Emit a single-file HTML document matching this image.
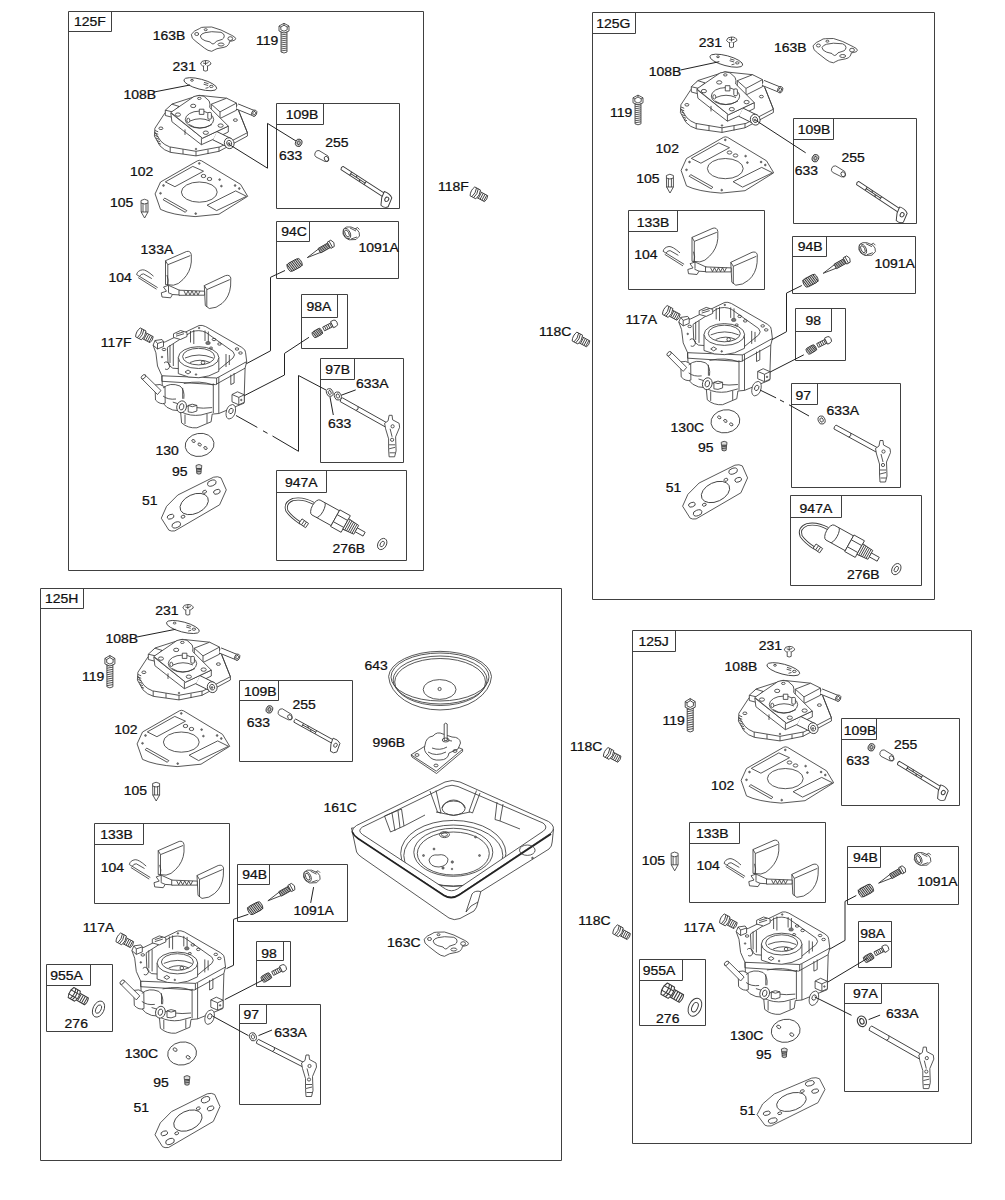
<!DOCTYPE html>
<html><head><meta charset="utf-8"><title>Carburetor parts</title><style>
html,body{margin:0;padding:0;background:#fff;width:1005px;height:1200px;overflow:hidden}
svg{display:block}
text{font-family:"Liberation Sans",sans-serif;font-size:13px;fill:#111;stroke:#111;stroke-width:.25px}
.bx{fill:none;stroke:#404040;stroke-width:1}
.ld{fill:none;stroke:#222;stroke-width:1}
.p{fill:#fff;stroke:#3a3a3a;stroke-width:.85;stroke-linejoin:round}
.pn{fill:none;stroke:#3a3a3a;stroke-width:.85;stroke-linejoin:round}
.pd{fill:#777;stroke:#444;stroke-width:.6}
</style></head><body>
<svg width="1005" height="1200" viewBox="0 0 1005 1200">
<defs><g id="ctop">
<path class="p" d="M164.2,114.1 L154.9,128.3 L154.4,136 L159.9,145.8 Q164,150.5 170.8,152.4 L196,155.9 L219,151.3 L247.4,136 L247.4,132.7 L238.7,110.8 L226.6,98.2 L199,95.3 L172,104 Z"/>
<path class="pn" d="M154.6,132 L161,141.4 Q164.5,145 169.7,146.9 L196,151.3 L220,146.9 L247.4,132.7"/>
<path class="pn" d="M170.2,147 V152.4 M196,151.3 V156 M219,147 V151.5 M183,149.2 V154 M208,149.5 V154"/>
<path class="pn" d="M155,130.5 l3.2,1.3 M155,133 l3.2,1.3 M155.2,135.5 l3.2,1.3 M155.8,138 l3.2,1.3 M156.8,140.5 l3.2,1.3 M158,143 l3,1.2"/>
<ellipse class="pn" cx="160.9" cy="128.3" rx="2" ry="1.3"/>
<ellipse class="pn" cx="235.4" cy="120.1" rx="2" ry="1.3"/>
<circle class="pd" cx="196" cy="149" r=".8"/>
<path class="p" d="M165.3,110.2 L171.9,104.2 L179,106.4 L179,111.5 L173,117.5 L165.3,115.5 Z"/>
<path class="pn" d="M165.3,110.2 L173,112 L179,106.4 M173,112 V117.5"/>
<path class="p" d="M211.3,104.2 L226.6,98.2 L236.5,103.1 L236.5,110.2 L220,118.5 L211.3,113 Z"/>
<path class="pn" d="M211.3,104.2 L220,111.9 L236.5,103.1 M220,111.9 V118.5"/>
<path d="M237,106.3 L254.2,113.4" stroke="#3a3a3a" stroke-width="6.2"/>
<path d="M237,106.3 L254.2,113.4" stroke="#fff" stroke-width="4.5"/>
<ellipse class="p" cx="254.2" cy="113.2" rx="2.5" ry="3.3" transform="rotate(22 254.2 113.2)"/>
<ellipse class="pn" cx="254.2" cy="113.2" rx="1.3" ry="1.9" transform="rotate(22 254.2 113.2)"/>
<path class="pn" d="M238.7,110.8 L247.4,132.7"/>
<path class="p" d="M170.8,113 L171.9,121.7 L185,132 L201.4,144.7 L214,139 L228.3,132 L228.3,126.1 L202.5,138.2 Z"/>
<path class="pn" d="M185,129.4 V134.9 M201.4,138.2 V144.7"/>
<path class="p" d="M170.8,112.4 L194,96.5 Q199,94.5 204,96.3 L209.1,100.9 Q210.5,104 209.7,107.5 L228.3,126.1 L202.5,138.2 Z"/>
<ellipse class="p" cx="199.5" cy="119.6" rx="14.2" ry="8.5"/>
<path class="pn" d="M189,124.5 Q199.5,131.5 212,124.5 M190,121 Q200,116.5 210,121"/>
<ellipse class="pn" cx="188.3" cy="120.4" rx="1.5" ry="2.2"/>
<rect class="p" x="199.3" y="109.2" width="4.6" height="5.2"/>
<rect class="p" x="207.8" y="112.4" width="3.6" height="6.8" rx="1.2"/>
<ellipse class="p" cx="193.2" cy="105.9" rx="2.6" ry="1.7"/>
<ellipse class="p" cx="177.9" cy="114.6" rx="2.6" ry="1.7"/>
<ellipse class="p" cx="220.6" cy="125.6" rx="2.6" ry="1.7"/>
<ellipse class="p" cx="205.8" cy="132.7" rx="2.6" ry="1.7"/>
<ellipse class="pn" cx="199.3" cy="98.4" rx="1.8" ry="1.1"/>
<path d="M215,135.8 L229.2,142.8" stroke="#3a3a3a" stroke-width="10"/>
<path d="M215,135.8 L229.2,142.8" stroke="#fff" stroke-width="8.3"/>
<ellipse class="p" cx="229.2" cy="143.2" rx="4.8" ry="5.5" transform="rotate(-20 229.2 143.2)"/>
<ellipse class="pn" cx="229.2" cy="143.2" rx="2.4" ry="2.9" transform="rotate(-20 229.2 143.2)"/>
<circle class="pd" cx="229" cy="143.5" r=".9"/>
</g>

<g id="g102">
<path class="p" d="M197.5,160.8 Q199.3,159.8 201.5,160.8 L240.5,184.3 L247.7,196.3 L219,214.2 L195.1,216.6 Q172,215 160.5,209.4 L155.1,193.9 L160.5,182 Z"/>
<path class="pn" d="M165.3,181.9 L192.8,166.4 L203.5,171.2 L174.9,186.7 Z"/>
<path class="pn" d="M164.7,198.1 L186.8,210.6 L185.3,212.3 L163.2,199.8 Z"/>
<path class="pn" d="M207.1,205.2 L235.7,190.9 L246.5,196.3 L216.6,210.6 Z"/>
<ellipse class="pn" cx="199.3" cy="192.1" rx="17.9" ry="10.1"/>
<ellipse class="pn" cx="203.5" cy="176" rx="2.3" ry="1.6"/>
<ellipse class="pn" cx="209.5" cy="179" rx="2.3" ry="1.6"/>
<circle class="pd" cx="219.6" cy="179.6" r=".9"/>
<circle class="pd" cx="221.4" cy="186.1" r=".9"/>
<circle class="pd" cx="163.5" cy="185.5" r=".9"/>
<circle class="pd" cx="160.5" cy="193.3" r=".9"/>
<circle class="pd" cx="235.1" cy="185.5" r=".9"/>
<circle class="pd" cx="239.3" cy="188.5" r=".9"/>
<circle class="pd" cx="199.3" cy="163.4" r=".9"/>
<circle class="pd" cx="195.7" cy="213.6" r=".9"/>
</g>

<g id="cbody">
<path class="p" d="M161.9,375.8 L163,403.2 Q166,408 172.8,410 L180.5,410.8 L181.6,422.9 Q188,428.5 196.9,427.8 L211.1,421.8 L212.2,414.1 L218.8,413.5 L244,403.2 L245.1,368 L246.7,361.6 Z"/>
<path class="p" d="M155,385 Q160,383 165,387 L165.2,403.2 Q160,405 155.5,400 Z"/>
<path class="p" d="M141.6,378.5 L145.2,375 L161,390.5 L157.5,394.5 Z"/>
<ellipse class="p" cx="143.4" cy="376.8" rx="2.6" ry="1.6" transform="rotate(-45 143.4 376.8)"/>
<path class="pn" d="M163,388 Q170,382 180,386 Q185,390 183.8,398.8 M183.8,383.5 Q200,380 213,385 M182.7,387.9 V398.8 M172.8,402.1 Q195,410 212.2,407.6 M163,396 Q168,400 176,399"/>
<path class="pn" d="M213.3,383.5 V413 M218.8,377 V413.5 M230.8,374.7 L230.8,384.6 L234.1,383 L234.1,373"/>
<path class="pn" d="M181.6,412 Q190,416.5 201,415 L212.2,412 M185,414.5 V424 M207,414 V423"/>
<ellipse class="p" cx="181.6" cy="406.8" rx="4.8" ry="6" transform="rotate(15 181.6 406.8)"/>
<ellipse class="pn" cx="181.6" cy="406.8" rx="2.2" ry="3.2" transform="rotate(15 181.6 406.8)"/>
<path class="p" d="M188.2,405.4 Q192,403 196.9,405.4 L196.9,411 Q192,413.5 188.2,411.9 Z"/>
<path class="pn" d="M188.2,405.4 Q192,408 196.9,405.4"/>
<path class="p" d="M232,394.5 L237.5,391.8 L244.3,394.8 L244.3,402.3 L238.8,404.8 L232,401.8 Z"/>
<path class="pn" d="M232,394.5 L238.8,397.4 L244.3,394.8 M238.8,397.4 V404.8"/>
<circle class="pd" cx="241.3" cy="400" r=".8"/>
<path class="p" d="M226,413.5 Q226.5,405.5 232.5,404.5 Q236,405 235.5,411 Q234.5,418 229,419 Q226,418.5 226,413.5 Z"/>
<ellipse class="pn" cx="231" cy="411" rx="2" ry="2.8" transform="rotate(25 231 411)"/>
<path class="p" d="M199.1,325.5 Q202,324.8 205.7,326.6 L241.8,347.4 Q246,350 245.6,352.8 L246.7,361.6 L218.8,377 L216.6,378 L161.9,375.8 L157.5,366 L155.9,352.8 L153.1,345.2 L165.2,341.9 Z"/>
<path class="pn" d="M161.9,375.8 L161.9,381.3 L215.5,384.6 L245,368.2 M216.6,378 V384.6"/>
<path class="pn" d="M167.4,347.4 L191.4,332 Q199,329 206,332.5 L233,351.7 Q236,355 233,358 L216.6,371.4 L172.8,368.2 Q168,366 168,362 Z"/>
<path class="pn" d="M190.5,331 V342.5 M193.8,330 V344 M205,330.5 V341 M208.3,331.5 V342 M170,345 V363 M173.3,344 V366 M226,354 V367 M229.3,355 V365"/>
<path class="p" d="M178.3,357.6 V373.6 Q199,383 218.8,371.4 V357.6 Z"/>
<ellipse class="p" cx="198.6" cy="357.6" rx="20.3" ry="10.9"/>
<ellipse class="pn" cx="198.6" cy="356.6" rx="16" ry="8.3"/>
<path class="pn" d="M185,358 Q199,352 213,358 M190,362.5 Q200,358 210,362.5"/>
<circle class="pn" cx="203" cy="362.6" r="1.8"/>
<circle class="pd" cx="199.1" cy="328" r=".8"/>
<circle class="pd" cx="162" cy="357" r=".8"/>
<circle class="pd" cx="196" cy="374.5" r=".8"/>
<ellipse class="pn" cx="164" cy="349.5" rx="1.8" ry="1.2"/>
<ellipse class="pn" cx="237" cy="349" rx="1.8" ry="1.2"/>
<ellipse class="pn" cx="240.5" cy="353" rx="1.8" ry="1.2"/>
<ellipse class="pd" cx="208" cy="343" rx="2.3" ry="1.6"/>
<ellipse class="pn" cx="219.5" cy="344" rx="1.8" ry="1.2"/>
<ellipse class="pn" cx="214" cy="339.5" rx="1.8" ry="1.2"/>
<ellipse class="pn" cx="211" cy="348" rx="1.5" ry="1"/>
<path class="pn" d="M164,363 Q167,360 170,365 Q169,371 165,369 M185,372 l3,-2 l3,2 l-3,2z"/>
<path class="p" d="M153.1,345.2 L155,340.5 L162,339.5 L163.5,341.5 L163.5,346.5 L157.5,349 Z"/>
<path class="pn" d="M155,340.5 L157.5,343.5 L163.5,341.5 M157.5,343.5 V349"/>
<path class="p" d="M173.5,333.8 L180.5,330.5 L187,332.5 L187,336.5 L180.5,339.5 L173.5,337.5 Z"/>
<path class="pn" d="M176,334.2 l8,-2.5 M176,336.2 l8,-2.5"/>
</g>

<g id="float">
<path class="p" d="M165.5,260.7 L186.5,251.5 Q190.5,250.5 191.3,254.7 L191.3,262 Q190.5,272 183,279.5 Q178.5,284.6 173.4,285.2 L165.5,284.6 Z"/>
<path class="pn" d="M165.5,260.7 L167.8,264.7 L190.3,255.6 M167.8,264.7 V284.8"/>
<path class="p" d="M204.3,285.6 L225.5,275.6 Q229.8,274.4 230.8,278 L230.6,286 Q229.5,297 222,303.5 Q216.5,308.5 209.3,308.5 L205.3,305.5 Z"/>
<path class="pn" d="M204.3,285.6 L206.8,289.6 L229.8,279.6 M206.8,289.6 V307"/>
<path class="p" d="M163.5,287 L168.5,285.3 L180,290.5 L180,295 L172.5,294.5 L170.5,297.8 L162,297 L161.3,292.8 L166.5,291.2 Z"/>
<path class="pn" d="M168.5,285.3 V292 M172.5,294.5 L168,292.5"/>
<path class="p" d="M179,290.2 L204.6,291.2 L204.6,295.2 L179,295.3 Z"/>
<path class="pn" d="M184,291 l2,4 l2,-4 l2,4 l2,-4 l2,4 l2,-4 l2,4 l2,-4"/>
<path class="pn" d="M167,275 Q169,280 167.5,285.5"/>
<path class="pn" d="M142.5,269.8 Q137.5,270.5 136.6,274.6 L157.6,287.6 M142.5,269.8 Q146,269.5 153.5,276.2 M139.6,276.4 Q140.8,273.8 143.6,273.9 L151.8,278.6 M138.2,277.6 L156.5,289.2"/>
</g>

<g id="g51">
<path class="p" d="M161.3,518.2 L166.6,506.3 L177.8,495 L213.6,477.2 Q218,476 221,477.9 L226.3,489.9 L219.6,504.8 L174.8,530.9 Q171,531.5 168.8,530.1 Z"/>
<ellipse class="pn" cx="194.2" cy="504" rx="15" ry="9.5" transform="rotate(-25 194.2 504)"/>
<ellipse class="pn" cx="211.8" cy="483.1" rx="4.5" ry="2.8" transform="rotate(-20 211.8 483.1)"/>
<ellipse class="pn" cx="216.9" cy="491.8" rx="3.5" ry="2.2" transform="rotate(-20 216.9 491.8)"/>
<ellipse class="pn" cx="204.6" cy="491.8" rx="2" ry="1.4" transform="rotate(-20 204.6 491.8)"/>
<ellipse class="pn" cx="170.6" cy="516.7" rx="3.5" ry="2.2" transform="rotate(-20 170.6 516.7)"/>
<ellipse class="pn" cx="176.3" cy="524.9" rx="4.5" ry="2.8" transform="rotate(-20 176.3 524.9)"/>
<ellipse class="pn" cx="183" cy="516.7" rx="2" ry="1.4" transform="rotate(-20 183 516.7)"/>
</g>

<g id="d130">
<ellipse class="p" cx="199.6" cy="444.9" rx="14.5" ry="11.5" transform="rotate(-10 199.6 444.9)"/>
<ellipse class="pn" cx="193.5" cy="441" rx="1.8" ry="1.3" transform="rotate(30 193.5 441)"/>
<ellipse class="pn" cx="199.6" cy="444.5" rx="1.8" ry="1.3" transform="rotate(30 199.6 444.5)"/>
<ellipse class="pn" cx="205.5" cy="448" rx="1.8" ry="1.3" transform="rotate(30 205.5 448)"/>
</g>

<g id="p95">
<path d="M196,465.5 Q199,463.5 201.8,465.5 L201.5,468.5 L196.3,468.5 Z" fill="#ddd" stroke="#333" stroke-width=".8"/>
<path d="M196.5,468.5 L201.3,468.5 L201,473.5 Q199,474.8 196.8,473.5 Z" fill="#bbb" stroke="#333" stroke-width=".8"/>
<path d="M196.6,470 l4.6,-.6 M196.7,471.8 l4.5,-.6" stroke="#222" stroke-width=".7"/>
</g>

<g id="g163">
<path class="p" d="M191.3,34.3 Q194,30.5 199.3,28.7 Q201,27 204,27.2 L211.7,27 L221,30 L231.7,35.3 Q235.5,37 235.7,38.7 Q235.5,40.5 232,41 L229.7,41.3 Q229,44 228.3,44.7 Q227.5,46.5 224,47.3 L217,48.7 Q214,50 211.7,51.3 Q208,51 204.3,48 L196,41.5 Q191,38.5 191.3,34.3 Z"/>
<path class="pn" d="M200.3,36 Q201.5,33.5 205,32.7 L211.7,31.7 L221,32.3 Q224.5,33.8 224.3,36 Q224,38.5 222.3,39.3 L216.3,41.3 Q214.5,44 213,44 Q211.5,44 210.3,42 L205,40.7 Q200.5,39 200.3,36 Z"/>
<ellipse class="pn" cx="196.7" cy="34" rx="2" ry="1.5"/>
<ellipse class="pn" cx="205.7" cy="29.7" rx="1.5" ry="1"/>
<ellipse class="pn" cx="230.3" cy="38.6" rx="2.4" ry="1.9"/>
<ellipse class="pn" cx="221" cy="44.5" rx="3" ry="1.5"/>
</g>

<g id="b119">
<path class="p" d="M281,31 L287,31 L287,52 Q284,54 281,52 Z"/>
<path class="pn" d="M281,33 l6,-1 M281,35 l6,-1 M281,37 l6,-1 M281,39 l6,-1 M281,41 l6,-1 M281,43 l6,-1 M281,45 l6,-1 M281,47 l6,-1 M281,49 l6,-1 M281,51 l6,-1"/>
<path class="p" d="M279,26 L284,23.3 L289,26 L289,31 L284,33 L279,31 Z"/>
<path class="pn" d="M280.8,27 L284,25.2 L287.2,27 L287.2,29.8 L284,31.2 L280.8,29.8 Z M284,23.3 V25.2 M279,26 L280.8,27 M289,26 L287.2,27"/>
</g>

<g id="s231">
<path class="p" d="M200.5,64 Q201,60.5 205.5,60.5 Q210.5,60.5 211,64 Q208,66.5 205.5,66.5 Q202,66.5 200.5,64 Z"/>
<path class="p" d="M203.5,66 L203.5,70.5 Q205.5,71.7 207.5,70.5 L207.5,66"/>
<path class="pn" d="M203,63 Q205.5,64.5 208.5,62.5 M205.5,60.5 V65"/>
</g>

<g id="p108">
<ellipse class="p" cx="200.3" cy="84.2" rx="17" ry="5" transform="rotate(15 200.3 84.2)"/>
<ellipse class="pn" cx="192" cy="80.3" rx="1.4" ry=".9"/>
<path class="pn" d="M204,82.4 l4.5,1.3 M203.6,84.2 l4.5,1.3 M205.5,88.3 l3,-.8"/>
<ellipse class="pn" cx="211.3" cy="86.4" rx="1.8" ry="1.1"/>
</g>

<g id="n105">
<path class="p" d="M141,200.5 Q144.5,198 148,200.5 L148,212 L144.6,218 L141.2,212 Z"/>
<path class="pn" d="M141,203 Q144.5,205 148,203 M141,212 h7 M143,203.5 V212 M146,203.5 V212"/>
</g>

<g id="pl117">
<g transform="translate(141,334) rotate(28)">
<path class="p" d="M3,-3.4 L12,-3.4 Q13.5,0 12,3.4 L3,3.4 Z"/>
<path class="pn" d="M5,-3.4 V3.4 M7,-3.4 V3.4 M9,-3.4 V3.4 M11,-3.4 V3.4"/>
<path class="p" d="M-3.5,-5 L3,-5 Q5.2,0 3,5 L-3.5,5 Q-5.8,0 -3.5,-5 Z"/>
<path class="pn" d="M-1.5,-5 Q0.5,0 -1.5,5 M0.5,-5 Q2.5,0 0.5,5"/>
</g>
</g>

<g id="f118"><use href="#pl117" transform="translate(334.5,-141)"/></g>





<g id="w633">
<ellipse cx="298.7" cy="142.8" rx="3.2" ry="3.8" transform="rotate(20 298.7 142.8)" fill="#ccc" stroke="#333" stroke-width=".85"/>
<ellipse class="pn" cx="298.7" cy="142.8" rx="1.4" ry="1.9" transform="rotate(20 298.7 142.8)"/>
</g>
<g id="b255">
<path class="p" d="M315,153 Q316,150 319,150.5 L328,156 L328.8,159 Q328,162 325,161.5 L316,157 Q314,155.5 315,153 Z"/>
<ellipse class="pn" cx="326.5" cy="159" rx="2" ry="2.8" transform="rotate(-30 326.5 159)"/>
</g>
<g id="sh109o">
<path class="p" d="M0,-1.8 L46,-1.8 L46,1.8 L0,1.8 Q-1.2,0 0,-1.8 Z"/>
<path class="pn" d="M9,-1.8 L9,1.8 M9,0 H24 M24,-1.8 V1.8 M14,-1.8 l1.5,1.8 M18,0 l1.5,1.8"/>
<path class="p" d="M42,-3.2 Q47,-4.5 50.5,-2 L52,7 Q50,10.5 46,9.5 L43,3 Z"/>
<ellipse class="pn" cx="47.5" cy="1.8" rx="1.6" ry="2.2"/>
</g>
<g id="sh109"><use href="#sh109o" transform="translate(342,168) rotate(33) scale(1.15,1.05)"/></g>

<g id="box94">
<g transform="translate(294.6,265) rotate(-28)">
<rect x="-7.5" y="-4.4" width="15" height="8.8" rx="3" fill="#d0d0d0" stroke="#333" stroke-width=".85"/>
<path d="M-6.5,-4.3 l1.5,8.6 M-4.6,-4.5 l1.5,9 M-2.7,-4.6 l1.5,9.2 M-0.8,-4.6 l1.5,9.2 M1.1,-4.6 l1.5,9.2 M3,-4.5 l1.5,9 M4.9,-4.3 l1.4,8.6" stroke="#222" stroke-width=".8" fill="none"/>
</g>
<g transform="translate(307.3,257.6) rotate(-29.5)">
<path class="p" d="M0,0 L14,-2 L14,2 Z"/>
<rect x="14" y="-2.6" width="11" height="5.2" fill="#aaa" stroke="#333" stroke-width=".8"/>
<path d="M15.5,-2.6 l1,5.2 M17.5,-2.6 l1,5.2 M19.5,-2.6 l1,5.2 M21.5,-2.6 l1,5.2 M23.5,-2.6 l1,5.2" stroke="#222" stroke-width=".7"/>
<path class="p" d="M25,-3.6 L29,-3.6 L30.5,0 L29,3.6 L25,3.6 Z"/>
<path class="pn" d="M27,-3.6 V3.6"/>
</g>
<path class="p" d="M343.5,229 Q346,226 351,227 L357,229.5 Q360,232 359.5,236 L356,239.5 L349,239.8 Q344,238 343,234 Z"/>
<ellipse class="p" cx="347" cy="233.5" rx="3.2" ry="5.5" transform="rotate(-25 347 233.5)"/>
<ellipse class="pn" cx="347" cy="233.5" rx="1.8" ry="3.8" transform="rotate(-25 347 233.5)"/>
<path class="pn" d="M350,228 L356,231 M351,239 L357,237 M355,229 l2.5,-1.5 l2,2"/>
</g>

<g id="box98">
<g transform="translate(317.3,333) rotate(-30)">
<rect x="-5" y="-3.3" width="10" height="6.6" rx="2" fill="#c0c0c0" stroke="#333" stroke-width=".8"/>
<path d="M-3.6,-3.1 l1,6.2 M-1.8,-3.3 l1,6.6 M0,-3.3 l1,6.6 M1.8,-3.3 l1,6.6 M3.4,-3.1 l.8,6.2" stroke="#222" stroke-width=".75" fill="none"/>
</g>
<g transform="translate(323.6,329) rotate(-27)">
<rect class="p" x="0" y="-2.1" width="9.5" height="4.2"/>
<path class="pn" d="M2,-2.1 v4.2 M4,-2.1 v4.2 M6,-2.1 v4.2 M8,-2.1 v4.2"/>
<path class="p" d="M9.5,-3.4 L12.5,-3.4 Q15,-3.4 15,0 Q15,3.4 12.5,3.4 L9.5,3.4 Z"/>
</g>
</g>

<g id="w633b">
<ellipse class="p" cx="329.7" cy="392.5" rx="3.2" ry="4" transform="rotate(-20 329.7 392.5)"/>
<ellipse class="pn" cx="329.7" cy="392.5" rx="1.4" ry="2" transform="rotate(-20 329.7 392.5)"/>
</g>
<g id="w633a">
<ellipse class="p" cx="337.8" cy="396" rx="3.4" ry="4.2" transform="rotate(-20 337.8 396)"/>
<ellipse class="pn" cx="337.8" cy="396" rx="1.6" ry="2.2" transform="rotate(-20 337.8 396)"/>
</g>
<g id="sh97">
<path class="p" d="M342.5,400 L344,397.5 L385,421.5 L384,424.5 Z"/>
<path class="pn" d="M357,406.5 l1.5,1.5"/>
</g>
<g id="lev97">
<path class="p" d="M388,416 L391,415.5 L391.5,421 L396,429 L394,434 L389,437 L388,446 L390,451 L391,455 L387,457 L384,455 L384,446 L385.5,437 L384,427 L387.5,421 Z"/>
<path class="pn" d="M385,440 h5 M384,448 l5,-2 M385.5,451 h4 M386,429 a1.5,1.5 0 1 0 3,0 a1.5,1.5 0 1 0 -3,0"/>
</g>

<g id="box947">
<path d="M314,503.5 Q303,497.5 293,499.5 Q284,503 287,511 Q291,517 301,523.5" fill="none" stroke="#3a3a3a" stroke-width="3"/>
<path d="M314,503.5 Q303,497.5 293,499.5 Q284,503 287,511 Q291,517 301,523.5" fill="none" stroke="#fff" stroke-width="1.3"/>
<g transform="translate(300.5,521) rotate(35)"><rect class="p" x="0" y="-2.6" width="8" height="5.2"/><path class="pn" d="M3,-2.6 V2.6 M5.5,-2.6 V2.6"/></g>
<g transform="translate(316,507.5) rotate(29)">
<path class="p" d="M0,-8.5 L22,-8.5 L22,8.5 L0,8.5 A4,8.5 0 0 1 0,-8.5 Z"/>
<path class="pn" d="M5,-8.5 A3,8.5 0 0 1 5,8.5"/>
<path class="p" d="M22,-9.5 L34,-9.5 L34,9.5 L22,9.5 Z"/>
<path class="pn" d="M22,-4 H34 M22,4 H34"/>
<path class="p" d="M34,-6 L46,-5 L46,5 L34,6 Z"/>
<path class="pn" d="M36,-6 V6 M38,-5.8 V5.8 M40,-5.6 V5.6 M42,-5.4 V5.4 M44,-5.2 V5.2"/>
<path class="p" d="M46,-2.2 L55,-2.2 L55,2.2 L46,2.2 Z"/>
</g>
<ellipse class="p" cx="382.2" cy="544" rx="4.2" ry="6" transform="rotate(30 382.2 544)"/>
<ellipse class="pn" cx="382.2" cy="544" rx="1.8" ry="3" transform="rotate(30 382.2 544)"/>
</g>

<g id="d130b">
<ellipse class="p" cx="199.6" cy="444.9" rx="14.5" ry="11.5" transform="rotate(-10 199.6 444.9)"/>
<ellipse class="pn" cx="192.6" cy="441" rx="2.2" ry="1.5" transform="rotate(30 192.6 441)"/>
<ellipse class="pn" cx="205.7" cy="448.7" rx="2.2" ry="1.5" transform="rotate(30 205.7 448.7)"/>
</g>
</defs>
<path class="bx" d="M68.5,11.5H423.5V570.5H68.5Z M68.5,31.5H111.5V11.5"/>
<path class="bx" d="M592.5,12.5H934.5V599.5H592.5Z M592.5,33.5H635.5V12.5"/>
<path class="bx" d="M40.5,588.5H561.5V1160.5H40.5Z M40.5,608.5H83.5V588.5"/>
<path class="bx" d="M632.5,630.5H971.5V1143.5H632.5Z M632.5,651.5H675.5V630.5"/>
<path class="bx" d="M276.5,103.5H399.5V208.5H276.5Z M276.5,124.5H323.5V103.5"/>
<path class="bx" d="M276.5,221.5H398.5V278.5H276.5Z M276.5,241.5H309.5V221.5"/>
<path class="bx" d="M301.5,294.5H347.5V348.5H301.5Z M301.5,317.5H337.5V294.5"/>
<path class="bx" d="M320.5,358.5H403.5V462.5H320.5Z M320.5,379.5H354.5V358.5"/>
<path class="bx" d="M276.5,470.5H406.5V560.5H276.5Z M276.5,492.5H326.5V470.5"/>
<path class="bx" d="M793.5,118.5H916.5V223.5H793.5Z M793.5,139.5H833.5V118.5"/>
<path class="bx" d="M628.5,210.5H764.5V289.5H628.5Z M628.5,231.5H677.5V210.5"/>
<path class="bx" d="M792.5,236.5H915.5V293.5H792.5Z M792.5,256.5H826.5V236.5"/>
<path class="bx" d="M795.5,308.5H845.5V360.5H795.5Z M795.5,331.5H831.5V308.5"/>
<path class="bx" d="M791.5,383.5H900.5V487.5H791.5Z M791.5,404.5H817.5V383.5"/>
<path class="bx" d="M790.5,495.5H921.5V585.5H790.5Z M790.5,517.5H841.5V495.5"/>
<path class="bx" d="M239.5,680.5H352.5V761.5H239.5Z M239.5,700.5H278.5V680.5"/>
<path class="bx" d="M94.5,823.5H229.5V903.5H94.5Z M94.5,844.5H143.5V823.5"/>
<path class="bx" d="M237.5,864.5H347.5V921.5H237.5Z M237.5,884.5H269.5V864.5"/>
<path class="bx" d="M256.5,941.5H290.5V986.5H256.5Z M256.5,960.5H283.5V941.5"/>
<path class="bx" d="M46.5,964.5H112.5V1031.5H46.5Z M46.5,985.5H90.5V964.5"/>
<path class="bx" d="M239.5,1004.5H320.5V1104.5H239.5Z M239.5,1023.5H266.5V1004.5"/>
<path class="bx" d="M841.5,718.5H959.5V805.5H841.5Z M841.5,739.5H876.5V718.5"/>
<path class="bx" d="M689.5,822.5H825.5V902.5H689.5Z M689.5,843.5H739.5V822.5"/>
<path class="bx" d="M847.5,846.5H958.5V904.5H847.5Z M847.5,867.5H880.5V846.5"/>
<path class="bx" d="M858.5,921.5H891.5V967.5H858.5Z M858.5,941.5H891.5V921.5"/>
<path class="bx" d="M639.5,959.5H705.5V1025.5H639.5Z M639.5,980.5H682.5V959.5"/>
<path class="bx" d="M844.5,983.5H938.5V1091.5H844.5Z M844.5,1003.5H881.5V983.5"/>
<use href="#g163"/>
<use href="#b119"/>
<use href="#s231"/>
<use href="#p108"/>
<use href="#ctop"/>
<use href="#g102"/>
<use href="#n105"/>
<use href="#w633"/>
<use href="#b255"/>
<use href="#sh109"/>
<use href="#box94"/>
<use href="#float"/>
<use href="#pl117"/>
<use href="#cbody"/>
<use href="#box98"/>
<use href="#w633b"/>
<use href="#w633a"/>
<use href="#d130"/>
<use href="#p95"/>
<use href="#g51"/>
<use href="#box947"/>
<use href="#f118"/>
<g transform="translate(341.3,399.7) rotate(29.3)"><path class="p" d="M0,-2.2 L51.4,-2.2 L51.4,2.2 L0,2.2 Q-1.2,0 0,-2.2 Z"/><path class="pn" d="M18.0,-2.2 l1.2,2.2 l-1.2,2.2"/></g>
<g transform="translate(386.1,424.8)"><path class="p" d="M-1.5,-1.5 L2,-4 L3,-9.5 L6,-9.5 L6.5,-5 L13,-1.5 L13.5,2.5 L9.5,12 L10,26 L8.5,32 L3,32 L2.5,24 L2.5,14 L-0.5,4 Z"/><circle class="pn" cx="6.5" cy="1.5" r="1.6"/><circle class="pn" cx="6" cy="15" r="1.6"/><path class="pn" d="M3,20 h6 M3,24 l6,-1.5 M3.5,28 h5.5 M4,4 L6,12"/></g>
<path class="ld" d="M154,92 L190,85"/>
<path class="ld" d="M229,144.3 L267.5,168.2 L267.5,123.4 L296,141"/>
<path class="ld" d="M285,270.5 L270.5,277.3 L270.5,350.8 L246.4,363.7"/>
<path class="ld" d="M309,337.3 L284.5,353.4 L284.5,375 L244.4,395.6"/>
<path class="ld" d="M236,415.5 L257.3,427.4"/>
<path class="ld" d="M263,430.8 L267.5,433.3"/>
<path class="ld" d="M272.5,436 L298.5,451.3"/>
<path class="ld" d="M298.5,451.3 L298.5,375.5 L326,390"/>
<path class="ld" d="M355.7,389.9 L341.3,395.2"/>
<path class="ld" d="M333.3,415 L330,397"/>
<use href="#ctop" transform="translate(526,-23.5)"/>
<use href="#g102" transform="translate(526,-23.5)"/>
<use href="#s231" transform="translate(526,-23.5)"/>
<use href="#p108" transform="translate(526,-23.5)"/>
<use href="#b119" transform="translate(354,71.8)"/>
<use href="#g163" transform="translate(621.7,11.5)"/>
<use href="#n105" transform="translate(525.4,-25)"/>
<use href="#float" transform="translate(526.5,-23.3)"/>
<use href="#cbody" transform="translate(525.7,-23.1)"/>
<use href="#pl117" transform="translate(526.9,-22.4)"/>
<use href="#d130" transform="translate(525.8,-23.6)"/>
<use href="#p95" transform="translate(525.2,-23.2)"/>
<use href="#g51" transform="translate(521.3,-12)"/>
<use href="#f118" transform="translate(102.1,145.2)"/>
<use href="#w633" transform="translate(516.7,15.4)"/>
<use href="#b255" transform="translate(516.7,15.4)"/>
<use href="#sh109o" transform="translate(857.6,183) rotate(33.5) scale(1.15,1.05)"/>
<use href="#box94" transform="translate(515.9,15.7)"/>
<use href="#box98" transform="translate(494,16.5)"/>
<use href="#w633a" transform="translate(483.8,24)"/>
<g transform="translate(835,427) rotate(28.7)"><path class="p" d="M0,-2.2 L47.9,-2.2 L47.9,2.2 L0,2.2 Q-1.2,0 0,-2.2 Z"/><path class="pn" d="M16.8,-2.2 l1.2,2.2 l-1.2,2.2"/></g>
<g transform="translate(877,450)"><path class="p" d="M-1.5,-1.5 L2,-4 L3,-9.5 L6,-9.5 L6.5,-5 L13,-1.5 L13.5,2.5 L9.5,12 L10,26 L8.5,32 L3,32 L2.5,24 L2.5,14 L-0.5,4 Z"/><circle class="pn" cx="6.5" cy="1.5" r="1.6"/><circle class="pn" cx="6" cy="15" r="1.6"/><path class="pn" d="M3,20 h6 M3,24 l6,-1.5 M3.5,28 h5.5 M4,4 L6,12"/></g>
<use href="#box947" transform="translate(514.1,25.1)"/>
<path class="ld" d="M680.5,70 L719.3,61.7"/>
<path class="ld" d="M756,120.5 L805.7,152.8"/>
<path class="ld" d="M801.8,285.5 L786.5,293.1 L786.5,331.7 L771.9,339.7"/>
<path class="ld" d="M803.8,354.8 L770,372.1"/>
<path class="ld" d="M760,390 L776.1,397.9"/>
<path class="ld" d="M780,400 L784,402"/>
<path class="ld" d="M789,404.8 L809,416"/>
<use href="#ctop" transform="translate(-17,544)"/>
<use href="#s231" transform="translate(-17.7,544)"/>
<use href="#p108" transform="translate(-17.4,542.8)"/>
<use href="#g102" transform="translate(-18,550)"/>
<use href="#b119" transform="translate(-174.1,630.1) scale(1,1.09)"/>
<use href="#n105" transform="translate(11.6,583)"/>
<use href="#w633" transform="translate(-29.3,566.6)"/>
<use href="#b255" transform="translate(-36.6,558.3)"/>
<use href="#sh109o" transform="translate(294.8,720.6) rotate(29)"/>
<use href="#float" transform="translate(-7.3,589.9)"/>
<use href="#box94" transform="translate(-39.4,643.2)"/>
<use href="#box98" transform="translate(-51,644.5)"/>
<use href="#w633a" transform="translate(-84.9,640.8)"/>
<g transform="translate(257.4,1041.3) rotate(27.0)"><path class="p" d="M0,-2.2 L51.2,-2.2 L51.2,2.2 L0,2.2 Q-1.2,0 0,-2.2 Z"/><path class="pn" d="M17.9,-2.2 l1.2,2.2 l-1.2,2.2"/></g>
<g transform="translate(303,1064.5)"><path class="p" d="M-1.5,-1.5 L2,-4 L3,-9.5 L6,-9.5 L6.5,-5 L13,-1.5 L13.5,2.5 L9.5,12 L10,26 L8.5,32 L3,32 L2.5,24 L2.5,14 L-0.5,4 Z"/><circle class="pn" cx="6.5" cy="1.5" r="1.6"/><circle class="pn" cx="6" cy="15" r="1.6"/><path class="pn" d="M3,20 h6 M3,24 l6,-1.5 M3.5,28 h5.5 M4,4 L6,12"/></g>
<use href="#cbody" transform="translate(-21.2,605.4)"/>
<use href="#pl117" transform="translate(-19.6,605)"/>
<use href="#d130b" transform="translate(-17.5,608.6)"/>
<use href="#p95" transform="translate(-11.9,611.1)"/>
<use href="#g51" transform="translate(-6.3,616.6)"/>
<use href="#g163" transform="translate(232.8,905)"/>
<path class="ld" d="M136.8,637 L175.6,629.3"/>
<path class="ld" d="M248.4,914.3 L233.5,919.3 L233.5,965.3 L226.5,968.6"/>
<path class="ld" d="M224.8,999.6 L264.1,979.4"/>
<path class="ld" d="M212.4,1016 L248.4,1035.6"/>
<path class="ld" d="M313.6,887.1 L310.7,902.9"/>
<path class="ld" d="M272,1030 L258.5,1035.6"/>
<use href="#ctop" transform="translate(584,585)"/>
<use href="#s231" transform="translate(583.7,585.9)"/>
<use href="#p108" transform="translate(583,585)"/>
<use href="#g102" transform="translate(586,586.5)"/>
<use href="#b119" transform="translate(406.2,672.3) scale(1,1.126)"/>
<use href="#n105" transform="translate(530.1,652.8)"/>
<use href="#f118" transform="translate(133.3,560.6)"/>
<use href="#f118" transform="translate(142.7,737.9)"/>
<use href="#w633" transform="translate(572.7,604.5)"/>
<use href="#b255" transform="translate(565.1,599.4)"/>
<use href="#sh109o" transform="translate(898.5,762.9) rotate(31.5) scale(1.13,1.05)"/>
<use href="#float" transform="translate(587.5,588.8)"/>
<use href="#box94" transform="translate(571.3,625.6)"/>
<use href="#box98" transform="translate(551.3,624.8)"/>
<use href="#w633a" transform="translate(861.9,1021.3) scale(1.3) translate(-337.8,-396)"/>
<g transform="translate(870.3,1028.1) rotate(29.7)"><path class="p" d="M0,-2.5 L57.6,-2.5 L57.6,2.5 L0,2.5 Q-1.2,0 0,-2.5 Z"/><path class="pn" d="M20.1,-2.5 l1.2,2.5 l-1.2,2.5"/></g>
<g transform="translate(920.3,1056.6)"><path class="p" d="M-1.5,-1.5 L2,-4 L3,-9.5 L6,-9.5 L6.5,-5 L13,-1.5 L13.5,2.5 L9.5,12 L10,26 L8.5,32 L3,32 L2.5,24 L2.5,14 L-0.5,4 Z"/><circle class="pn" cx="6.5" cy="1.5" r="1.6"/><circle class="pn" cx="6" cy="15" r="1.6"/><path class="pn" d="M3,20 h6 M3,24 l6,-1.5 M3.5,28 h5.5 M4,4 L6,12"/></g>
<use href="#cbody" transform="translate(583.1,586.5)"/>
<use href="#pl117" transform="translate(584,586)"/>
<use href="#d130b" transform="translate(586.1,585.9)"/>
<use href="#p95" transform="translate(585.4,583.5)"/>
<use href="#g51" transform="translate(588.5,653.4) scale(1.045,0.89)"/>
<path class="ld" d="M856.3,895.5 L845,901.4 L845,940.4 L829.6,949.2"/>
<path class="ld" d="M867.3,958.4 L827.9,982"/>
<path class="ld" d="M814.7,996.9 L851.5,1015.3"/>
<path class="ld" d="M880.1,1015.1 L868.6,1019.6"/>
<g id="bowl643">
<path class="p" d="M388.6,676.5 A51.5,26.3 0 0 1 491.5,676.5 A51.5,35 0 0 1 388.6,676.5 Z"/>
<ellipse class="pn" cx="440" cy="677" rx="49" ry="24"/>
<ellipse class="pn" cx="440.1" cy="682" rx="45.4" ry="23.5"/>
<ellipse class="pn" cx="440.1" cy="680" rx="47" ry="24"/>
<ellipse class="pn" cx="439.6" cy="689.5" rx="16.4" ry="9.9"/>
<circle class="pn" cx="439.6" cy="689" r="1.6"/>
</g>
<g id="d996">
<path class="p" d="M411.1,754.8 L437.4,738.4 L462.6,749.3 L436.3,771.2 Z"/>
<path class="pn" d="M411.1,754.8 L412,757 L436.5,773.5 L462.6,751.5 L462.6,749.3"/>
<path class="p" d="M425,745 Q426,737 433,736 Q437,731 443,734 L452,737 Q460,737 460.5,743 L458,749 L449,753 Q448,760 440,760 Q432,761 428,755 Q423,751 425,745 Z"/>
<path class="pn" d="M428,752 Q436,757 446,752 M432,748 q8,3 15,-1 M445,736 Q447,741 452,741"/>
<ellipse class="pn" cx="417" cy="755" rx="2" ry="1.4"/>
<ellipse class="pn" cx="436" cy="765.5" rx="2" ry="1.4"/>
<ellipse class="pn" cx="455" cy="751" rx="2" ry="1.4"/>
<path class="p" d="M444.2,724 Q445.7,722.3 447.2,724 L447.2,740.6 L444.2,740.6 Z"/>
<ellipse class="pn" cx="445.7" cy="740" rx="3.5" ry="2"/>
</g>
<g id="base161">
<path class="p" d="M351.5,828 L356.6,852 Q358,855 362,857.5 L449,918 Q454,921 460,918.5 L474,911 Q477,908 478,902 L480.8,891.6 L549,849 Q552,846.5 552.2,842 L553.5,829 Z"/>
<path class="pn" d="M478,902 Q470,905 466,912 M480.8,891.6 Q475,890 472,894 L466,912"/>
<path class="p" d="M445,782 Q452,779 460,782 L548.5,821.5 Q557,827 551,833 L459,894.5 Q451.5,899.5 444,895 L356.5,837.5 Q348,831 356.5,825.5 Z"/>
<path class="pn" d="M446,786.5 Q452,784 458,786.5 L543,823 Q548.5,827 543.5,831 L457.5,889 Q451.5,892.5 445.5,889 L362.5,834.5 Q357,830.5 362.5,827 Z"/>
<path d="M352,831.5 Q354,836 358,838.5 L444,895.5 Q451.5,900 459,895 L551,834" fill="none" stroke="#222" stroke-width="1.6"/>
<clipPath id="rimclip"><path d="M446,786.5 Q452,784 458,786.5 L543,823 Q548.5,827 543.5,831 L457.5,889 Q451.5,892.5 445.5,889 L362.5,834.5 Q357,830.5 362.5,827 Z"/></clipPath>
<g clip-path="url(#rimclip)">
<ellipse class="pn" cx="453.3" cy="853.4" rx="52.6" ry="33"/>
<ellipse class="pn" cx="453.3" cy="855.5" rx="49.5" ry="30.5"/>
<path class="pn" d="M371,840 Q378,852 392,858 M505,866 Q512,860 520,858"/>
</g>
<ellipse class="pn" cx="453.3" cy="852.3" rx="39.5" ry="24"/>
<ellipse class="pn" cx="453.3" cy="853.5" rx="36" ry="21.5"/>
<ellipse class="pn" cx="444.5" cy="834.6" rx="5" ry="3"/>
<ellipse class="pn" cx="444.5" cy="834.6" rx="3" ry="1.8"/>
<path class="pn" d="M429,860 Q431,854 438,855 Q445,853.5 448,859 Q448,866 439,867 Q430,867 429,860 Z"/>
<circle class="pd" cx="423.5" cy="855.5" r="1"/><circle class="pd" cx="434" cy="849" r="1"/>
<circle class="pd" cx="452.3" cy="862" r="1.2"/><circle class="pd" cx="443" cy="868" r="1.2"/>
<circle class="pd" cx="475.5" cy="837" r="1"/><circle class="pd" cx="479.5" cy="855.5" r="1"/>
<circle class="pd" cx="452" cy="869" r=".8"/>
<ellipse class="pn" cx="453.6" cy="808.1" rx="11.6" ry="7.1"/>
<path class="pn" d="M442,808 Q446,800 453.6,800 Q461,800 465,808"/>
<path class="pn" d="M430,791 L437.5,812 L441,813 L436,790.5 M476.5,790.5 L469,811.5 L472.5,813 L480,793 M497,802 L495,819.5 L500,821 L503,804"/>
<path class="pn" d="M384.5,816 L401.5,809 L404,826 L390.5,832 Z M392,813 L395,831 M398,811 L400,828"/>
<path class="pn" d="M436,812 L453.6,815.5 L470,812 M404,826 L425,815 M500,821 L520,829"/>
<ellipse class="pn" cx="527.3" cy="850.2" rx="7.8" ry="5.2"/>
<circle class="pd" cx="532.5" cy="858" r=".9"/>
</g>
<g id="plug955">
<g transform="translate(74.5,994.5) rotate(30) scale(1.15)">
<path class="p" d="M3,-3.4 L12,-3.4 Q13.5,0 12,3.4 L3,3.4 Z"/>
<path class="pn" d="M5,-3.4 V3.4 M7,-3.4 V3.4 M9,-3.4 V3.4 M11,-3.4 V3.4"/>
<path class="p" d="M-3.5,-5 L3,-5 Q5.2,0 3,5 L-3.5,5 Q-5.8,0 -3.5,-5 Z"/>
<path class="pn" d="M-1.5,-5 Q0.5,0 -1.5,5 M0.5,-5 Q2.5,0 0.5,5 M-5,-2 H3.8 M-5,2 H3.8"/>
</g>
<ellipse class="p" cx="98.5" cy="1009.1" rx="5.5" ry="8.5" transform="rotate(25 98.5 1009.1)"/>
<ellipse class="pn" cx="98.5" cy="1009.1" rx="2.5" ry="4.5" transform="rotate(25 98.5 1009.1)"/>
</g>
<use href="#plug955" transform="translate(584.6,-123) scale(1.12)"/>

<text transform="translate(74.0,26) scale(1.075,1)">125F</text>
<text transform="translate(152.7,40) scale(1.075,1)">163B</text>
<text transform="translate(256.0,45) scale(1.075,1)">119</text>
<text transform="translate(172.6,71) scale(1.075,1)">231</text>
<text transform="translate(123.5,99) scale(1.075,1)">108B</text>
<text transform="translate(129.9,176) scale(1.075,1)">102</text>
<text transform="translate(110.0,207) scale(1.075,1)">105</text>
<text transform="translate(285.8,119) scale(1.075,1)">109B</text>
<text transform="translate(279.0,160) scale(1.075,1)">633</text>
<text transform="translate(325.2,147) scale(1.075,1)">255</text>
<text transform="translate(281.3,236) scale(1.075,1)">94C</text>
<text transform="translate(358.4,252) scale(1.075,1)">1091A</text>
<text transform="translate(140.6,254) scale(1.075,1)">133A</text>
<text transform="translate(108.4,282) scale(1.075,1)">104</text>
<text transform="translate(100.8,347) scale(1.075,1)">117F</text>
<text transform="translate(306.4,311) scale(1.075,1)">98A</text>
<text transform="translate(325.2,374) scale(1.075,1)">97B</text>
<text transform="translate(356.0,388) scale(1.075,1)">633A</text>
<text transform="translate(328.0,428) scale(1.075,1)">633</text>
<text transform="translate(155.4,455) scale(1.075,1)">130</text>
<text transform="translate(172.1,476) scale(1.075,1)">95</text>
<text transform="translate(141.9,505) scale(1.075,1)">51</text>
<text transform="translate(285.0,487) scale(1.075,1)">947A</text>
<text transform="translate(332.4,553) scale(1.075,1)">276B</text>
<text transform="translate(438.0,191) scale(1.075,1)">118F</text>
<text transform="translate(596.3,28) scale(1.075,1)">125G</text>
<text transform="translate(698.8,47) scale(1.075,1)">231</text>
<text transform="translate(773.9,52) scale(1.075,1)">163B</text>
<text transform="translate(648.7,76) scale(1.075,1)">108B</text>
<text transform="translate(609.9,117) scale(1.075,1)">119</text>
<text transform="translate(655.6,153) scale(1.075,1)">102</text>
<text transform="translate(636.3,183) scale(1.075,1)">105</text>
<text transform="translate(797.8,134) scale(1.075,1)">109B</text>
<text transform="translate(841.5,162) scale(1.075,1)">255</text>
<text transform="translate(794.8,175) scale(1.075,1)">633</text>
<text transform="translate(636.8,227) scale(1.075,1)">133B</text>
<text transform="translate(634.2,259) scale(1.075,1)">104</text>
<text transform="translate(797.8,251) scale(1.075,1)">94B</text>
<text transform="translate(874.4,268) scale(1.075,1)">1091A</text>
<text transform="translate(625.4,324) scale(1.075,1)">117A</text>
<text transform="translate(805.4,325) scale(1.075,1)">98</text>
<text transform="translate(539.0,336) scale(1.075,1)">118C</text>
<text transform="translate(795.6,400) scale(1.075,1)">97</text>
<text transform="translate(826.4,415) scale(1.075,1)">633A</text>
<text transform="translate(670.6,432) scale(1.075,1)">130C</text>
<text transform="translate(697.9,452) scale(1.075,1)">95</text>
<text transform="translate(665.7,492) scale(1.075,1)">51</text>
<text transform="translate(799.6,513) scale(1.075,1)">947A</text>
<text transform="translate(847.0,579) scale(1.075,1)">276B</text>
<text transform="translate(44.9,603) scale(1.075,1)">125H</text>
<text transform="translate(155.2,615) scale(1.075,1)">231</text>
<text transform="translate(105.5,643) scale(1.075,1)">108B</text>
<text transform="translate(82.1,681) scale(1.075,1)">119</text>
<text transform="translate(364.5,670) scale(1.075,1)">643</text>
<text transform="translate(243.9,696) scale(1.075,1)">109B</text>
<text transform="translate(292.4,709) scale(1.075,1)">255</text>
<text transform="translate(246.7,727) scale(1.075,1)">633</text>
<text transform="translate(114.3,734) scale(1.075,1)">102</text>
<text transform="translate(372.4,747) scale(1.075,1)">996B</text>
<text transform="translate(123.7,795) scale(1.075,1)">105</text>
<text transform="translate(323.5,812) scale(1.075,1)">161C</text>
<text transform="translate(100.2,839) scale(1.075,1)">133B</text>
<text transform="translate(100.7,872) scale(1.075,1)">104</text>
<text transform="translate(242.3,879) scale(1.075,1)">94B</text>
<text transform="translate(293.4,915) scale(1.075,1)">1091A</text>
<text transform="translate(82.7,932) scale(1.075,1)">117A</text>
<text transform="translate(387.1,947) scale(1.075,1)">163C</text>
<text transform="translate(261.2,958) scale(1.075,1)">98</text>
<text transform="translate(50.3,980) scale(1.075,1)">955A</text>
<text transform="translate(243.4,1019) scale(1.075,1)">97</text>
<text transform="translate(64.6,1028) scale(1.075,1)">276</text>
<text transform="translate(274.3,1037) scale(1.075,1)">633A</text>
<text transform="translate(124.8,1058) scale(1.075,1)">130C</text>
<text transform="translate(153.2,1087) scale(1.075,1)">95</text>
<text transform="translate(133.5,1112) scale(1.075,1)">51</text>
<text transform="translate(638.4,646) scale(1.075,1)">125J</text>
<text transform="translate(758.8,650) scale(1.075,1)">231</text>
<text transform="translate(724.6,671) scale(1.075,1)">108B</text>
<text transform="translate(662.5,725) scale(1.075,1)">119</text>
<text transform="translate(843.7,735) scale(1.075,1)">109B</text>
<text transform="translate(893.9,749) scale(1.075,1)">255</text>
<text transform="translate(569.9,751) scale(1.075,1)">118C</text>
<text transform="translate(846.3,765) scale(1.075,1)">633</text>
<text transform="translate(711.0,790) scale(1.075,1)">102</text>
<text transform="translate(695.9,838) scale(1.075,1)">133B</text>
<text transform="translate(853.0,862) scale(1.075,1)">94B</text>
<text transform="translate(641.8,865) scale(1.075,1)">105</text>
<text transform="translate(696.5,870) scale(1.075,1)">104</text>
<text transform="translate(917.2,886) scale(1.075,1)">1091A</text>
<text transform="translate(578.3,925) scale(1.075,1)">118C</text>
<text transform="translate(683.4,932) scale(1.075,1)">117A</text>
<text transform="translate(860.3,938) scale(1.075,1)">98A</text>
<text transform="translate(642.7,975) scale(1.075,1)">955A</text>
<text transform="translate(853.0,998) scale(1.075,1)">97A</text>
<text transform="translate(885.9,1018) scale(1.075,1)">633A</text>
<text transform="translate(656.1,1023) scale(1.075,1)">276</text>
<text transform="translate(730.0,1040) scale(1.075,1)">130C</text>
<text transform="translate(756.1,1059) scale(1.075,1)">95</text>
<text transform="translate(739.7,1115) scale(1.075,1)">51</text>
</svg></body></html>
